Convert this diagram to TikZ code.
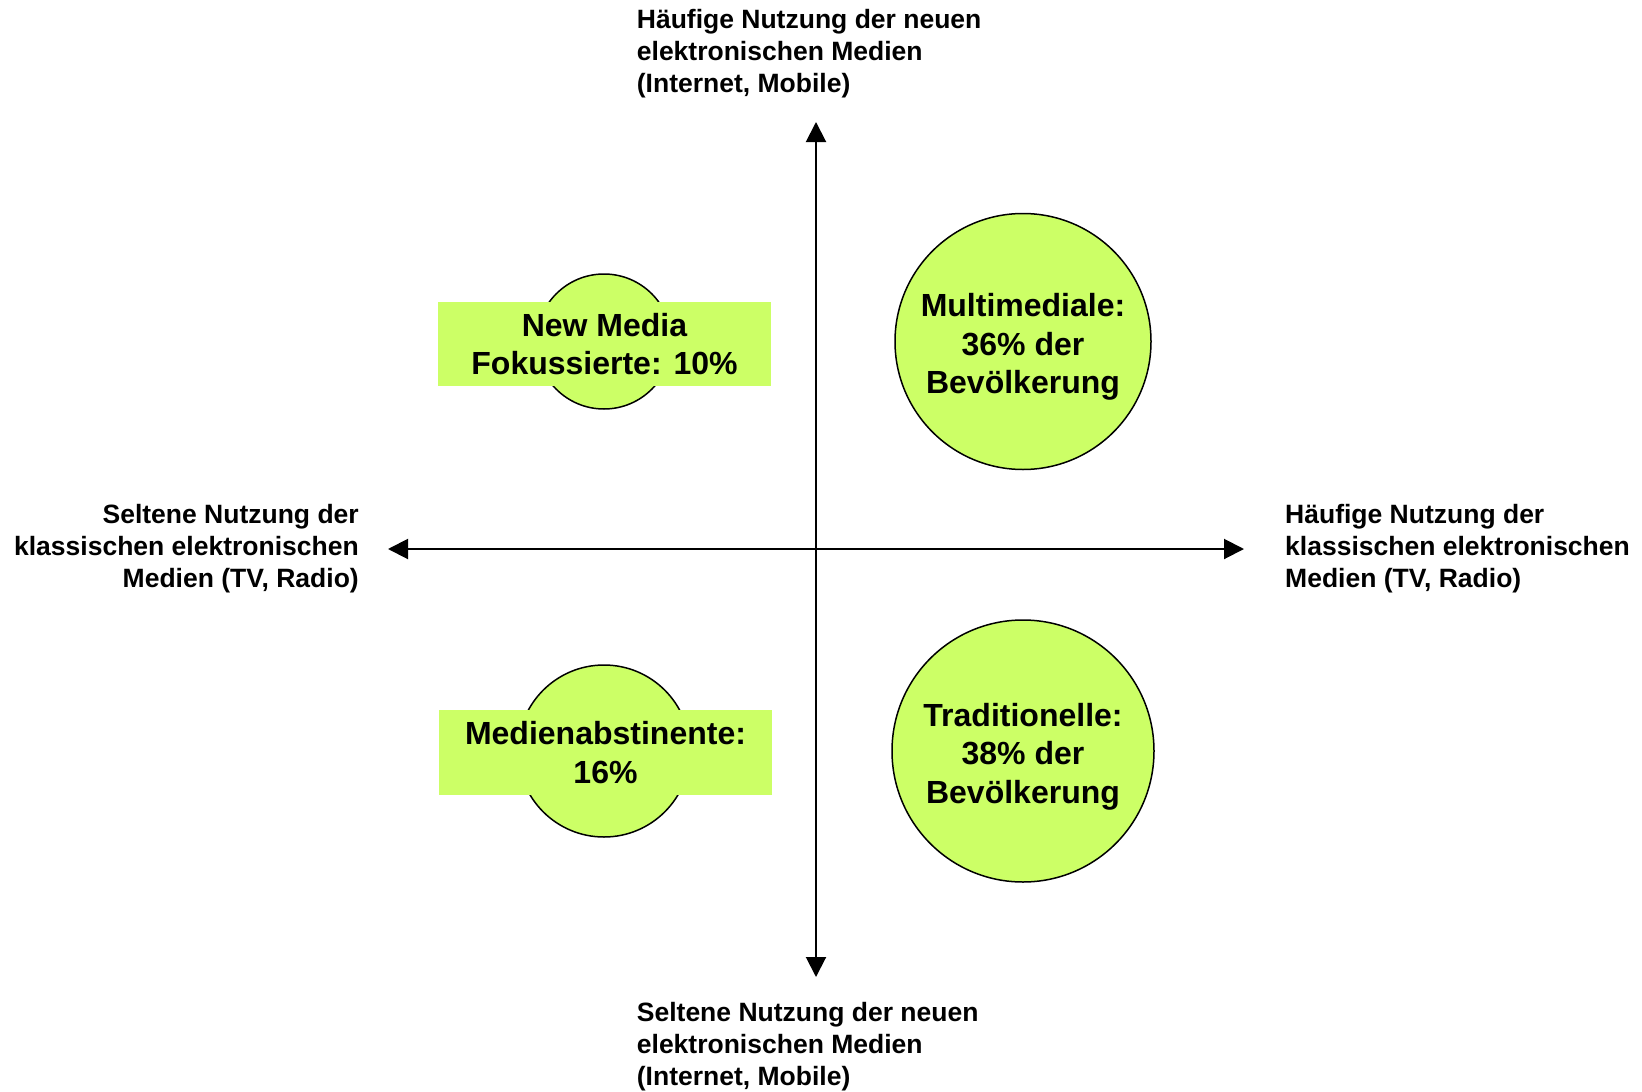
\documentclass[tikz,border=0pt]{standalone}
\usepackage{fontspec}
\setmainfont{Liberation Sans}
\usetikzlibrary{arrows.meta}
\definecolor{lime}{HTML}{CCFF66}
\begin{document}
\begin{tikzpicture}[x=1pt,y=-1pt,
  axisline/.style={line width=2pt,{Triangle[length=20pt,width=20pt]}-{Triangle[length=20pt,width=20pt]}},
  axislabel/.style={inner sep=0pt,font=\bfseries\fontsize{26.5}{32}\selectfont},
  bigcirc/.style={circle,draw=black,line width=1.5pt,fill=lime,inner sep=0pt},
  bigtext/.style={inner sep=0pt,align=center,font=\bfseries\fontsize{32}{38.5}\selectfont},
  smallcirc/.style={circle,draw=black,line width=1.5pt,fill=lime,inner sep=0pt},
  labelbox/.style={rectangle,fill=lime,inner sep=0pt,minimum width=333pt,minimum height=84pt,align=center,font=\bfseries\fontsize{32}{38.5}\selectfont}
]
\useasboundingbox[fill=white] (0,0) rectangle (1642,1092);
% axes
\coordinate (T) at (816,122);
\coordinate (B) at (816,977);
\coordinate (L) at (388,549);
\coordinate (R) at (1244,549);
\draw[axisline] (T) -- (B);
\draw[axisline] (L) -- (R);
% axis labels
\node[axislabel,anchor=west,align=left] (toplab) at (636.7,53.3)
  {Häufige Nutzung der neuen\\elektronischen Medien\\(Internet, Mobile)};
\node[axislabel,anchor=west,align=left] (botlab) at (636.7,1047)
  {Seltene Nutzung der neuen\\elektronischen Medien\\(Internet, Mobile)};
\node[axislabel,anchor=east,align=right] (leftlab) at (359,548.6)
  {Seltene Nutzung der\\klassischen elektronischen\\Medien (TV, Radio)};
\node[axislabel,anchor=west,align=left] (rightlab) at (1285,548.6)
  {Häufige Nutzung der\\klassischen elektronischen\\Medien (TV, Radio)};
% big circles
\node[bigcirc,minimum size=256pt] (multi) at (1023,341.5) {};
\node[bigtext] (multitext) at (1023,347)
  {Multimediale:\\36\% der\\Bevölkerung};
\node[bigcirc,minimum size=262pt] (trad) at (1023,751) {};
\node[bigtext] (tradtext) at (1023,756.5)
  {Traditionelle:\\38\% der\\Bevölkerung};
% small circles with boxes
\node[smallcirc,minimum size=135pt] (newcirc) at (604,341.5) {};
\node[labelbox] (newbox) at (604.5,344) {New Media\\Fokussierte: 10\%};
\node[smallcirc,minimum size=172pt] (abscirc) at (604,751) {};
\node[labelbox,minimum height=85pt] (absbox) at (605.5,752.5) {Medienabstinente:\\16\%};
\end{tikzpicture}
\end{document}
